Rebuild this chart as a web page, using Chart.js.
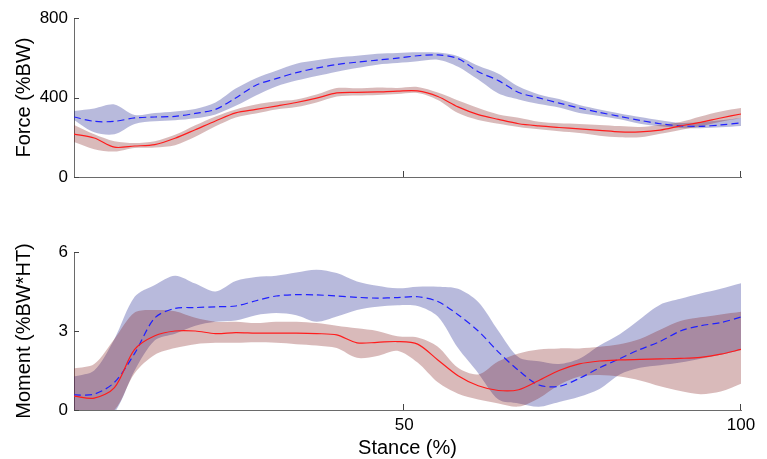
<!DOCTYPE html>
<html>
<head>
<meta charset="utf-8">
<script src="https://cdn.jsdelivr.net/npm/chart.js@4.4.1/dist/chart.umd.min.js"></script>
<style>
  html, body { margin: 0; padding: 0; background: #fff; }
  #wrap { position: relative; width: 767px; height: 459px; }
  canvas { position: absolute; left: 0; }
  #force { top: 0; }
  #moment { top: 230px; }
</style>
</head>
<body>
<div id="wrap">
  <canvas id="force" width="767" height="200"></canvas>
  <canvas id="moment" width="767" height="229"></canvas>
</div>
<script>
// stance (%) sample points shared by every curve
const stance = [1,4,7,10,13,16,19,22,25,28,31,34,37,40,43,46,49,52,55,58,61,64,67,70,73,76,79,82,85,88,91,94,97,100];

// force (%BW)
const forceBlueMean  = [302,280,280,297,302,305,320,340,398,462,495,525,548,566,578,588,598,610,614,596,530,485,425,398,372,347,325,305,285,268,257,255,262,272];
const forceBlueUpper = [332,345,365,312,322,330,342,375,445,497,535,570,587,601,610,620,624,628,626,608,560,520,455,415,392,362,340,320,302,285,272,275,285,297];
const forceBlueLower = [287,225,215,267,280,285,295,315,358,410,455,485,508,530,548,565,573,582,590,555,490,420,390,367,350,322,307,290,268,255,247,245,250,257];
const forceRedMean   = [216,196,150,156,163,195,238,282,323,340,357,375,397,423,426,428,432,433,405,353,314,290,268,257,249,242,235,227,227,236,257,275,297,317];
const forceRedUpper  = [262,215,180,171,180,212,260,305,340,365,380,390,415,448,446,450,448,453,425,385,347,315,298,278,270,267,262,256,252,262,277,305,330,347];
const forceRedLower  = [176,140,128,146,148,160,202,255,300,320,340,352,375,405,410,413,418,423,388,322,287,268,252,240,230,221,208,200,200,218,237,255,278,297];

// moment (%BW*HT)
const momentBlueMean  = [0.57,0.6,1.05,2.15,3.5,3.86,3.89,3.92,3.95,4.15,4.33,4.38,4.37,4.33,4.28,4.25,4.27,4.3,4.12,3.62,3.0,2.2,1.5,0.95,0.9,1.2,1.6,1.95,2.3,2.6,3.0,3.2,3.32,3.53];
const momentBlueUpper = [1.27,1.5,2.7,4.3,4.75,5.1,4.8,4.5,4.9,5.05,5.1,5.22,5.33,5.2,4.88,4.72,4.62,4.68,4.68,4.6,4.1,3.0,2.0,1.85,1.75,1.95,2.45,2.88,3.45,4.0,4.22,4.42,4.6,4.81];
const momentBlueLower = [-0.3,-0.5,-0.1,1.5,2.65,2.9,3.2,3.35,3.4,3.6,3.68,3.6,3.35,3.55,3.8,3.92,3.98,3.95,3.55,2.35,1.4,0.4,0.25,0.12,0.3,0.5,0.8,1.35,1.6,1.7,1.8,1.95,2.1,2.28];
const momentRedMean   = [0.53,0.45,0.85,2.3,2.82,3.0,3.0,2.9,2.94,2.92,2.92,2.92,2.9,2.85,2.55,2.57,2.6,2.5,1.9,1.3,0.92,0.74,0.77,1.12,1.5,1.75,1.86,1.9,1.92,1.94,1.96,2.0,2.12,2.3];
const momentRedUpper  = [1.58,1.75,2.7,3.7,3.8,3.75,3.5,3.35,3.35,3.3,3.35,3.35,3.3,3.2,3.1,3.0,2.8,2.75,2.4,1.6,1.35,1.85,2.15,2.3,2.34,2.34,2.4,2.5,2.7,3.05,3.38,3.52,3.63,3.73];
const momentRedLower  = [-0.2,-0.2,0.0,1.4,2.1,2.35,2.5,2.55,2.55,2.57,2.55,2.5,2.45,2.35,1.98,2.05,2.25,1.8,1.05,0.62,0.4,0.25,0.13,0.45,0.95,1.27,1.33,1.27,1.12,0.9,0.72,0.6,0.7,1.0];

// tick labels
const xTicks = [50, 100];
const forceTicks = [0, 400, 800];
const momentTicks = [0, 3, 6];

Chart.defaults.font.family = "'Liberation Sans', Arial, sans-serif";
Chart.defaults.color = '#000';

const axisColor = '#6a6a6a';
const blueLine = '#2020ff';
const redLine = '#ff1c1c';
const blueBand = 'rgba(20, 25, 140, 0.3)';
const redBand = 'rgba(130, 25, 25, 0.3)';

const pts = ys => stance.map((x, i) => ({x: x, y: ys[i]}));

// matlab style ticks pointing into the plot
const innerTicks = {
  id: 'innerTicks',
  afterDraw(chart) {
    const {ctx, chartArea: a, scales: {x, y}} = chart;
    ctx.save();
    ctx.strokeStyle = '#444';
    ctx.lineWidth = 1;
    ctx.beginPath();
    x.ticks.forEach(t => {
      const px = Math.round(x.getPixelForValue(t.value)) - 0.5;
      ctx.moveTo(px, a.bottom);
      ctx.lineTo(px, a.bottom - 6);
    });
    y.ticks.forEach(t => {
      const py = Math.round(y.getPixelForValue(t.value)) + 0.5;
      ctx.moveTo(a.left, py);
      ctx.lineTo(a.left + 5, py);
    });
    ctx.stroke();
    ctx.restore();
  }
};

function makeChart(id, d, yTicks, yTitle, showX, padTop, xHeight) {
  const line = (data, color, dash) => ({
    data: pts(data), borderColor: color, borderWidth: 1.2, borderDash: dash,
    pointRadius: 0, fill: false, tension: 0.3
  });
  const band = (data, color, fill) => ({
    data: pts(data), borderWidth: 0, borderColor: 'transparent',
    backgroundColor: color, pointRadius: 0, fill: fill, tension: 0.3
  });
  return new Chart(document.getElementById(id), {
    type: 'line',
    data: {
      datasets: [
        line(d.redMean, redLine, []),
        line(d.blueMean, blueLine, [7, 4]),
        band(d.redUpper, redBand, '+1'),
        band(d.redLower, redBand, false),
        band(d.blueUpper, blueBand, '+1'),
        band(d.blueLower, blueBand, false)
      ]
    },
    options: {
      responsive: false,
      animation: false,
      devicePixelRatio: 1,
      layout: { padding: { top: padTop, right: 26, left: 0, bottom: 0 } },
      plugins: { legend: { display: false }, tooltip: { enabled: false } },
      scales: {
        x: {
          type: 'linear', min: 1, max: 100,
          afterBuildTicks: s => { s.ticks = xTicks.map(v => ({value: v})); },
          afterFit: s => { s.height = xHeight; },
          grid: { display: false, drawTicks: false },
          border: { display: true, color: axisColor, width: 1 },
          ticks: { display: showX, padding: 5, autoSkip: false, maxRotation: 0, font: { size: 17 } },
          title: { display: showX, text: 'Stance (%)', font: { size: 20, lineHeight: 1 }, padding: { top: 0, bottom: 1 } }
        },
        y: {
          type: 'linear', min: yTicks[0], max: yTicks[yTicks.length - 1],
          afterBuildTicks: s => { s.ticks = yTicks.map(v => ({value: v})); },
          afterFit: s => { s.width = 74; },
          grid: { display: false, drawTicks: false },
          border: { display: true, color: axisColor, width: 1 },
          ticks: { padding: 6, autoSkip: false, font: { size: 17 } },
          title: { display: true, text: yTitle, font: { size: 20, lineHeight: 1 }, padding: { top: 14, bottom: 0 } }
        }
      }
    },
    plugins: [innerTicks]
  });
}

makeChart('force', {
  blueMean: forceBlueMean, blueUpper: forceBlueUpper, blueLower: forceBlueLower,
  redMean: forceRedMean, redUpper: forceRedUpper, redLower: forceRedLower
}, forceTicks, 'Force (%BW)', false, 18, 23);

makeChart('moment', {
  blueMean: momentBlueMean, blueUpper: momentBlueUpper, blueLower: momentBlueLower,
  redMean: momentRedMean, redUpper: momentRedUpper, redLower: momentRedLower
}, momentTicks, 'Moment (%BW*HT)', true, 22, 49);
</script>
</body>
</html>
